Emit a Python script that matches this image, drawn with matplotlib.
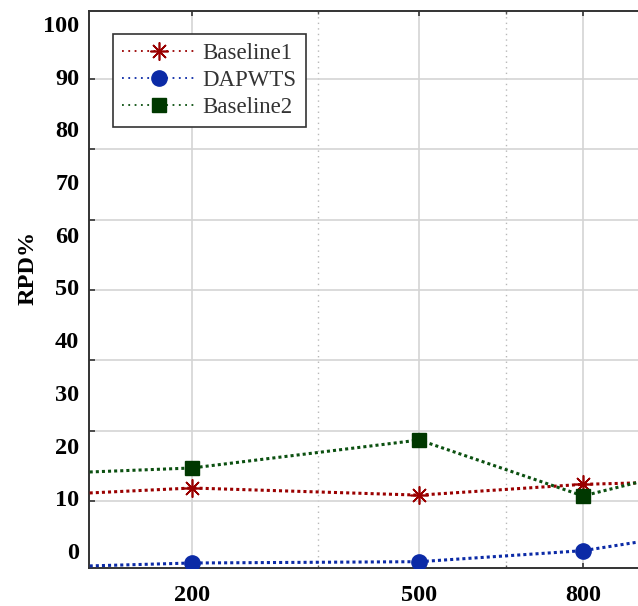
import numpy as np
import matplotlib
matplotlib.use("Agg")
import matplotlib.pyplot as plt
from matplotlib.ticker import FixedLocator, NullFormatter

# ---- data ----
x_values = [100, 200, 500, 800, 1000]
baseline1 = [10.9, 11.95, 10.6, 12.65, 13.1]
dapwts = [-2.9, -2.28, -2.03, 0.06, 2.8]
baseline2 = [14.9, 15.75, 21.06, 10.45, 14.8]
x_tick_values = [200, 500, 800]
x_tick_labels = ["200", "500", "800"]
y_tick_values = [0, 10, 20, 30, 40, 50, 60, 70, 80, 90, 100]
series_names = ["Baseline1", "DAPWTS", "Baseline2"]

fig = plt.figure(figsize=(6.38, 6.06), dpi=100)
ax = fig.add_axes([0.1395, 0.0627, 0.8805, 0.9196])

ax.set_xscale("function", functions=(np.sqrt, np.square))
ax.set_xlim(108.5, 944.6)
ax.set_ylim(-3.23, 102.52)

dot = (0, (1, 1))
l1, = ax.plot(x_values, baseline1, linestyle=dot, lw=2.2, color="#9a0000",
              marker=(8, 2, 0), ms=13, mew=1.2, mec="#9a0000", zorder=3)
l2, = ax.plot(x_values, dapwts, linestyle=dot, lw=2.2, color="#0b2aa6",
              marker="o", ms=11, mfc="#0b2aa6", mec="#0b2aa6", zorder=3)
l3, = ax.plot(x_values, baseline2, linestyle=dot, lw=2.2, color="#0b5010",
              marker="s", ms=9.5, mfc="#003800", mec="#003800", zorder=3)

# ticks
serif = "Liberation Serif"
ax.xaxis.set_major_locator(FixedLocator(x_tick_values))
ax.set_xticklabels(x_tick_labels, fontfamily=serif, fontweight="bold", fontsize=17.5)
ax.xaxis.set_minor_locator(FixedLocator([350, 650]))
ax.xaxis.set_minor_formatter(NullFormatter())

ax.yaxis.set_major_locator(FixedLocator(y_tick_values))
ax.set_yticklabels([str(v) for v in y_tick_values], fontfamily=serif,
                   fontweight="bold", fontsize=17.5)
ax.yaxis.set_minor_locator(FixedLocator(np.linspace(9.5, 89.6, 7)))
ax.yaxis.set_minor_formatter(NullFormatter())

ax.tick_params(axis="x", which="major", direction="in", length=3.5, width=1.2,
               top=True, bottom=True, pad=12, color="#333333")
ax.tick_params(axis="x", which="minor", direction="in", length=2.5, width=1.0,
               top=True, bottom=True, color="#555555")
ax.tick_params(axis="y", which="major", length=0, pad=7)
ax.tick_params(axis="y", which="minor", direction="in", length=4, width=1.2,
               left=True, right=True, color="#333333")

# grids
ax.grid(True, which="major", axis="x", color="#d4d4d4", lw=1.2, ls="-", zorder=0)
ax.grid(True, which="minor", axis="x", color="#b8b8b8", lw=1.0, ls=(0, (1, 3)), zorder=0)
ax.grid(True, which="minor", axis="y", color="#d4d4d4", lw=1.2, ls="-", zorder=0)
ax.set_axisbelow(True)

for s in ax.spines.values():
    s.set_color("#333333")
    s.set_linewidth(1.4)

ax.set_ylabel("RPD%", fontfamily=serif, fontweight="bold", fontsize=17.5)
ax.yaxis.set_label_coords(-0.09, 0.538)

leg = ax.legend([l1, l2, l3], series_names, loc="upper left",
                bbox_to_anchor=(0.0427, 0.958), borderaxespad=0,
                prop={"family": serif, "size": 16.5}, handlelength=3.2,
                handletextpad=0.3, labelspacing=0.25, fancybox=False,
                framealpha=1, edgecolor="#333333", borderpad=0.4)
leg.get_frame().set_linewidth(1.2)
for t in leg.get_texts():
    t.set_color("#333333")
for ln in leg.get_lines():
    ln.set_linewidth(1.3)
    ln.set_linestyle((0, (1, 2.5)))

fig.savefig("out.png", dpi=100)
